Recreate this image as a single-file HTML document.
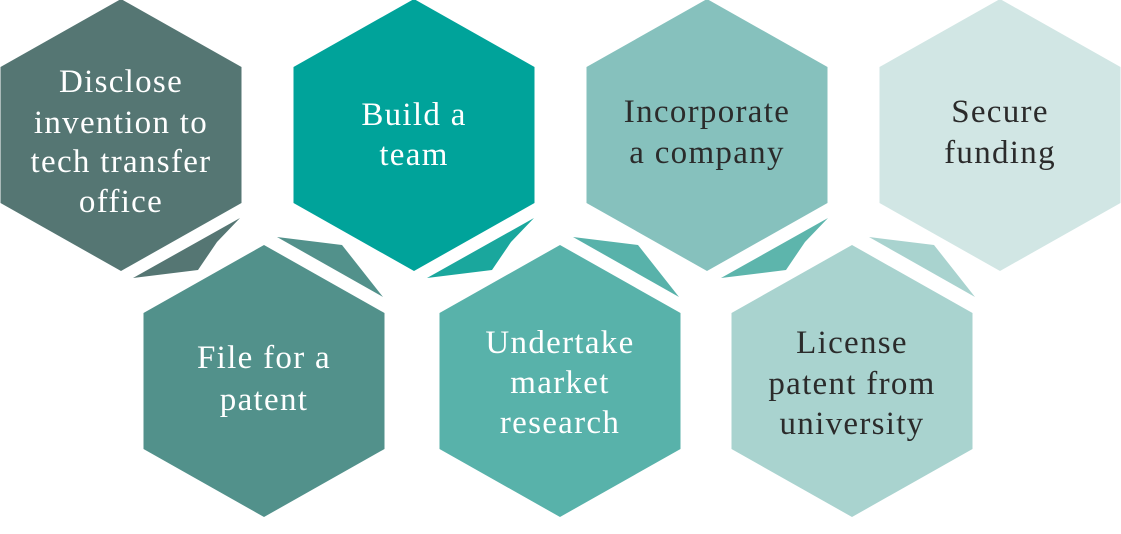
<!DOCTYPE html>
<html><head><meta charset="utf-8"><style>
html,body{margin:0;padding:0;background:#fff;}
svg{display:block;}
text{font-family:"Liberation Serif",serif;font-size:33px;letter-spacing:1.3px;text-anchor:middle;dominant-baseline:central;}
.w{fill:#fff}.d{fill:#2b2b2b}
</style></head><body>
<svg width="1121" height="534" viewBox="0 0 1121 534" xmlns="http://www.w3.org/2000/svg">
<defs>
<polygon id="hx" points="0,-136 120.5,-68 120.5,68 0,136 -120.5,68 -120.5,-68"/>
</defs>
<use href="#hx" x="121" y="135" fill="#557673"/>
<use href="#hx" x="414" y="135" fill="#00a39a"/>
<use href="#hx" x="707" y="135" fill="#86c1bd"/>
<use href="#hx" x="1000" y="135" fill="#d1e6e4"/>
<use href="#hx" x="264" y="381" fill="#52918b"/>
<use href="#hx" x="560" y="381" fill="#58b2aa"/>
<use href="#hx" x="852" y="381" fill="#a9d3cf"/>
<polygon points="240,218 217,242 198,270 133,278" fill="#557673"/>
<polygon points="277,237 342,245 383,297" fill="#52918b"/>
<polygon points="534,218 511,242 492,270 427,278" fill="#1aa79d"/>
<polygon points="573,237 638,245 679,297" fill="#58b2aa"/>
<polygon points="828,218 805,242 786,270 721,278" fill="#5db5ac"/>
<polygon points="869,237 934,245 975,297" fill="#a9d3cf"/>
<text class="w" x="121" y="82">Disclose</text>
<text class="w" x="121" y="123">invention to</text>
<text class="w" x="121" y="162">tech transfer</text>
<text class="w" x="121" y="202">office</text>
<text class="w" x="414" y="115">Build a</text>
<text class="w" x="414" y="155">team</text>
<text class="d" x="707" y="112">Incorporate</text>
<text class="d" x="707" y="153">a company</text>
<text class="d" x="1000" y="112">Secure</text>
<text class="d" x="1000" y="153">funding</text>
<text class="w" x="264" y="358">File for a</text>
<text class="w" x="264" y="400">patent</text>
<text class="w" x="560" y="343">Undertake</text>
<text class="w" x="560" y="383">market</text>
<text class="w" x="560" y="423">research</text>
<text class="d" x="852" y="343">License</text>
<text class="d" x="852" y="384">patent from</text>
<text class="d" x="852" y="424">university</text>
</svg>
</body></html>
